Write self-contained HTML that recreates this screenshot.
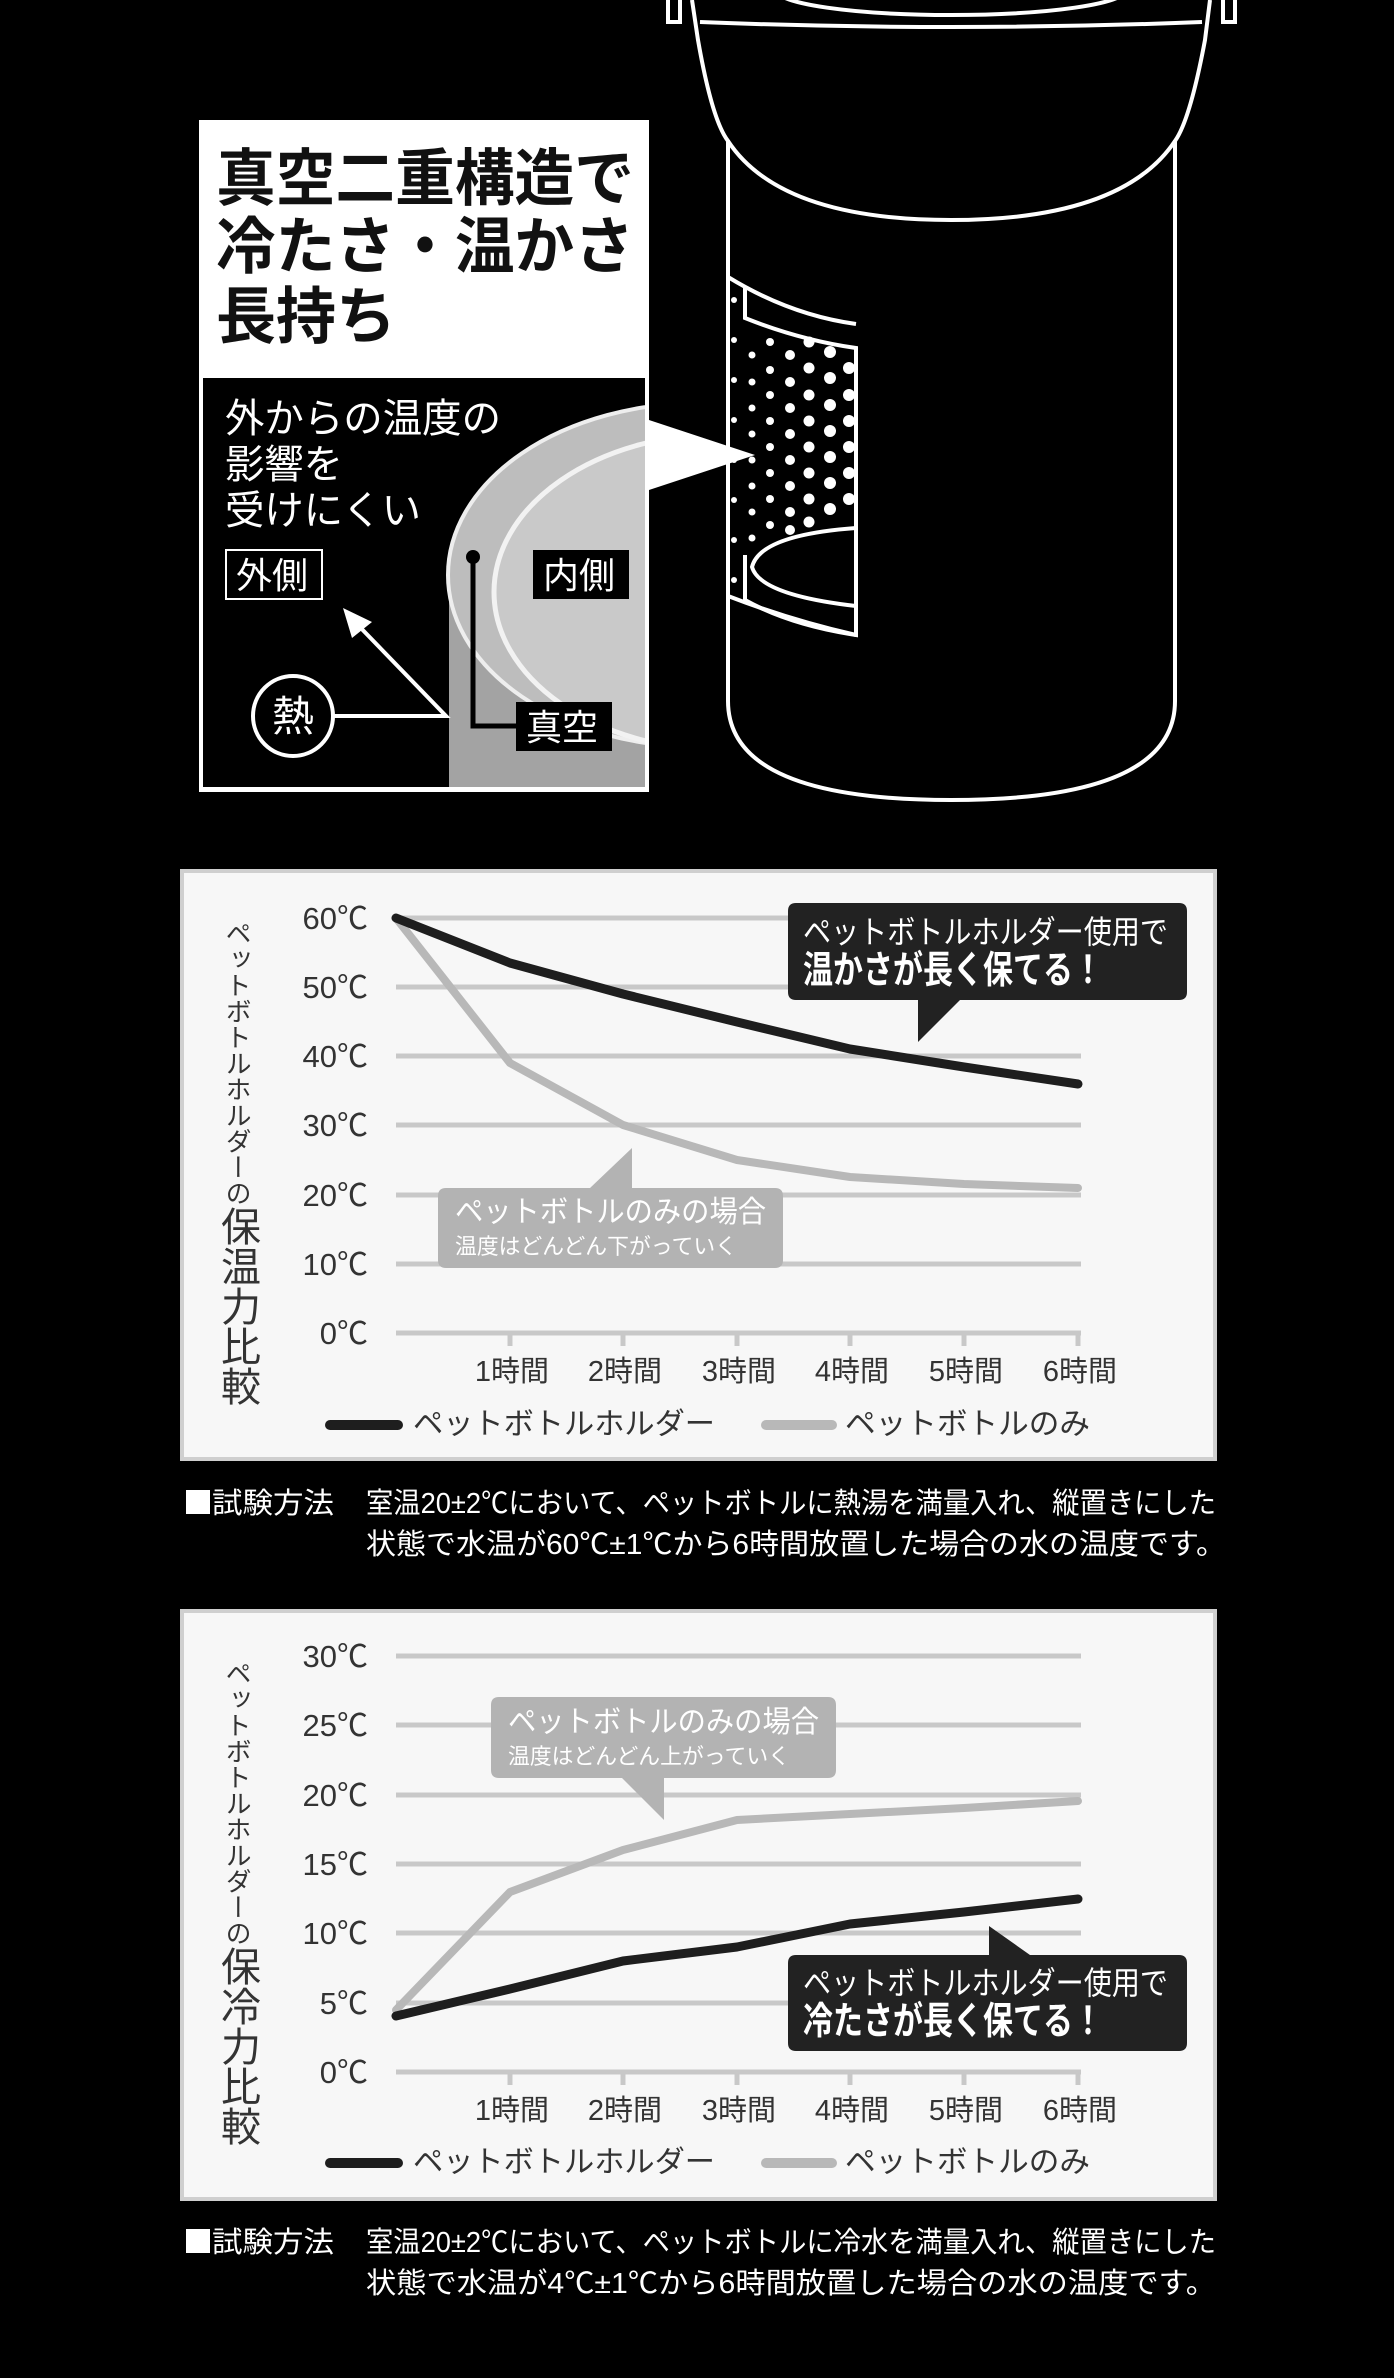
<!DOCTYPE html>
<html><head><meta charset="utf-8">
<style>
html,body{margin:0;padding:0;background:#000;}
body{width:1394px;height:2378px;position:relative;overflow:hidden;font-family:"Liberation Sans","Noto Sans CJK JP",sans-serif;}
svg{position:absolute;left:0;top:0;}
.vt{position:absolute;writing-mode:vertical-rl;color:#333;font-family:"Liberation Sans","Noto Sans CJK JP",sans-serif;line-height:1;}
.vt .s{font-size:26px;letter-spacing:0px;}
.vt .b{font-size:40px;}
</style></head><body>
<svg width="1394" height="2378" viewBox="0 0 1394 2378" font-family="Liberation Sans, Noto Sans CJK JP, sans-serif">
<rect width="1394" height="2378" fill="#000"/>
<g fill="none" stroke="#fff" stroke-width="4">
<path d="M692,0 L698,40 Q712,120 728,141 L728,701 Q728,800 951,800 Q1175,800 1175,701 L1175,141 Q1190,120 1205,40 L1210,0"/>
<path d="M728,141 Q780,220 951,220 Q1122,220 1175,141"/>
<path d="M700,22 Q951,32 1202,22"/>
<path d="M668,0 L668,22 L680,22 L680,0 M1223,0 L1223,22 L1235,22 L1235,0"/>
<ellipse cx="951" cy="-10" rx="175" ry="25"/>
<path d="M745,287 L745,318 Q800,340 856,348 L856,635 Q790,625 745,600 L745,555"/>
<path d="M856,324 Q790,315 728,277 M856,635 Q790,620 728,596"/>
<path d="M856,528 Q760,535 752,567 Q760,595 856,606"/>
</g>
<g fill="#fff">
<circle cx="752" cy="355" r="3.5"/><circle cx="770" cy="342" r="4"/><circle cx="790" cy="355" r="5"/><circle cx="809" cy="342" r="5.5"/><circle cx="830" cy="352" r="6"/>
<circle cx="752" cy="382" r="3.5"/><circle cx="770" cy="370" r="4"/><circle cx="790" cy="382" r="5"/><circle cx="809" cy="368" r="5.5"/><circle cx="830" cy="378" r="6"/><circle cx="849" cy="368" r="6"/>
<circle cx="752" cy="408" r="3.5"/><circle cx="770" cy="395" r="4"/><circle cx="790" cy="408" r="5"/><circle cx="809" cy="395" r="5.5"/><circle cx="830" cy="405" r="6"/><circle cx="849" cy="395" r="6"/>
<circle cx="752" cy="434" r="3.5"/><circle cx="770" cy="421" r="4"/><circle cx="790" cy="434" r="5"/><circle cx="809" cy="421" r="5.5"/><circle cx="830" cy="431" r="6"/><circle cx="849" cy="421" r="6"/>
<circle cx="752" cy="460" r="3.5"/><circle cx="770" cy="447" r="4"/><circle cx="790" cy="460" r="5"/><circle cx="809" cy="447" r="5.5"/><circle cx="830" cy="457" r="6"/><circle cx="849" cy="447" r="6"/>
<circle cx="752" cy="486" r="3.5"/><circle cx="770" cy="473" r="4"/><circle cx="790" cy="486" r="5"/><circle cx="809" cy="473" r="5.5"/><circle cx="830" cy="483" r="6"/><circle cx="849" cy="473" r="6"/>
<circle cx="752" cy="512" r="3.5"/><circle cx="770" cy="499" r="4"/><circle cx="790" cy="512" r="5"/><circle cx="809" cy="499" r="5.5"/><circle cx="830" cy="509" r="6"/><circle cx="849" cy="499" r="6"/>
<circle cx="752" cy="538" r="3.5"/><circle cx="770" cy="525" r="4"/><circle cx="790" cy="530" r="5"/><circle cx="809" cy="522" r="5.5"/>
<circle cx="734" cy="300" r="3"/><circle cx="734" cy="340" r="3"/><circle cx="734" cy="380" r="3"/><circle cx="734" cy="420" r="3"/><circle cx="734" cy="460" r="3"/><circle cx="734" cy="500" r="3"/><circle cx="734" cy="540" r="3"/><circle cx="734" cy="580" r="3"/>
</g>
<rect x="199" y="120" width="450" height="672" fill="#fff"/>
<rect x="203" y="378" width="442" height="409" fill="#000"/>
<clipPath id="cb"><rect x="203" y="378" width="442" height="409"/></clipPath>
<g clip-path="url(#cb)">
<rect x="449" y="575" width="196" height="212" fill="#a3a3a3"/>
<ellipse cx="700" cy="575" rx="252" ry="172" fill="#bdbdbd" stroke="#eee" stroke-width="4"/>
<ellipse cx="722" cy="592" rx="228" ry="158" fill="#c9c9c9" stroke="#f2f2f2" stroke-width="5"/>
</g>
<polygon points="649,420 755,455 649,490" fill="#fff"/>
<text x="216" y="200" font-size="62" font-weight="bold" fill="#111" textLength="418" lengthAdjust="spacingAndGlyphs">真空二重構造で</text>
<text x="216" y="268" font-size="62" font-weight="bold" fill="#111" textLength="418" lengthAdjust="spacingAndGlyphs">冷たさ・温かさ</text>
<text x="216" y="338" font-size="62" font-weight="bold" fill="#111" textLength="180" lengthAdjust="spacingAndGlyphs">長持ち</text>
<text x="225" y="432" font-size="40" fill="#fff" textLength="276" lengthAdjust="spacingAndGlyphs">外からの温度の</text>
<text x="225" y="478" font-size="40" fill="#fff" textLength="118" lengthAdjust="spacingAndGlyphs">影響を</text>
<text x="225" y="524" font-size="40" fill="#fff" textLength="196" lengthAdjust="spacingAndGlyphs">受けにくい</text>
<rect x="226" y="550" width="96" height="49" fill="#000" stroke="#fff" stroke-width="2"/>
<text x="236" y="588" font-size="36" fill="#fff">外側</text>
<rect x="533" y="550" width="96" height="49" fill="#000"/>
<text x="543" y="588" font-size="36" fill="#fff">内側</text>
<rect x="516" y="702" width="96" height="49" fill="#000"/>
<text x="526" y="740" font-size="36" fill="#fff">真空</text>
<circle cx="473" cy="557" r="7" fill="#000"/>
<polyline points="473,557 473,726 516,726" fill="none" stroke="#000" stroke-width="5"/>
<circle cx="293" cy="716" r="40" fill="#000" stroke="#fff" stroke-width="4"/>
<text x="293" y="731" font-size="42" fill="#fff" text-anchor="middle">熱</text>
<polyline points="333,716 446,716 355,622" fill="none" stroke="#fff" stroke-width="4"/>
<polygon points="343,608 372,622 352,638" fill="#fff"/>

<rect x="182" y="871" width="1033" height="588" fill="#f7f7f7" stroke="#cfcfcf" stroke-width="4"/>
<g stroke="#c8c8c8" stroke-width="5">
<line x1="396" y1="918" x2="1081" y2="918"/><line x1="396" y1="987" x2="1081" y2="987"/><line x1="396" y1="1056" x2="1081" y2="1056"/><line x1="396" y1="1125" x2="1081" y2="1125"/><line x1="396" y1="1195" x2="1081" y2="1195"/><line x1="396" y1="1264" x2="1081" y2="1264"/><line x1="396" y1="1333" x2="1081" y2="1333"/>
<line x1="510" y1="1333" x2="510" y2="1346"/><line x1="623" y1="1333" x2="623" y2="1346"/><line x1="737" y1="1333" x2="737" y2="1346"/><line x1="850" y1="1333" x2="850" y2="1346"/><line x1="964" y1="1333" x2="964" y2="1346"/><line x1="1078" y1="1333" x2="1078" y2="1346"/>
</g>
<g font-size="31" fill="#333" text-anchor="end">
<text x="368" y="929">60℃</text><text x="368" y="998">50℃</text><text x="368" y="1067">40℃</text><text x="368" y="1136">30℃</text><text x="368" y="1206">20℃</text><text x="368" y="1275">10℃</text><text x="368" y="1344">0℃</text>
</g>
<g font-size="29" fill="#333" text-anchor="middle">
<text x="512" y="1381">1時間</text><text x="625" y="1381">2時間</text><text x="739" y="1381">3時間</text><text x="852" y="1381">4時間</text><text x="966" y="1381">5時間</text><text x="1080" y="1381">6時間</text>
</g>
<polyline points="396,918 510,1063 623,1125 737,1160 850,1177 964,1184 1078,1188" fill="none" stroke="#b8b8b8" stroke-width="8" stroke-linejoin="round" stroke-linecap="round"/>
<polyline points="396,918 510,963 623,994 737,1022 850,1049 964,1067 1078,1084" fill="none" stroke="#1e1e1e" stroke-width="9" stroke-linejoin="round" stroke-linecap="round"/>
<path d="M796,903 H1179 Q1187,903 1187,911 V992 Q1187,1000 1179,1000 H960 L918,1042 L918,1000 H796 Q788,1000 788,992 V911 Q788,903 796,903 Z" fill="#222"/>
<text x="803" y="943" font-size="32" fill="#fff" textLength="365" lengthAdjust="spacingAndGlyphs">ペットボトルホルダー使用で</text>
<text x="803" y="983" font-size="38" font-weight="bold" fill="#fff" textLength="300" lengthAdjust="spacingAndGlyphs">温かさが長く保てる！</text>
<path d="M446,1188 H590 L632,1148 L632,1188 H775 Q783,1188 783,1196 V1260 Q783,1268 775,1268 H446 Q438,1268 438,1260 V1196 Q438,1188 446,1188 Z" fill="#b3b3b3"/>
<text x="455" y="1222" font-size="30" fill="#fff" textLength="311" lengthAdjust="spacingAndGlyphs">ペットボトルのみの場合</text>
<text x="455" y="1254" font-size="22" fill="#fff" textLength="282" lengthAdjust="spacingAndGlyphs">温度はどんどん下がっていく</text>
<line x1="330" y1="1425" x2="398" y2="1425" stroke="#1e1e1e" stroke-width="10" stroke-linecap="round"/>
<text x="413" y="1434" font-size="30" fill="#333" textLength="302" lengthAdjust="spacingAndGlyphs">ペットボトルホルダー</text>
<line x1="766" y1="1425" x2="832" y2="1425" stroke="#b8b8b8" stroke-width="10" stroke-linecap="round"/>
<text x="845" y="1434" font-size="30" fill="#333" textLength="245" lengthAdjust="spacingAndGlyphs">ペットボトルのみ</text>
<rect x="186" y="1490" width="24" height="24" fill="#fff"/>
<text x="212" y="1513" font-size="29" fill="#fff" textLength="122" lengthAdjust="spacingAndGlyphs">試験方法</text>
<text x="366" y="1513" font-size="29" fill="#fff" textLength="850" lengthAdjust="spacingAndGlyphs">室温20±2℃において、ペットボトルに熱湯を満量入れ、縦置きにした</text>
<text x="366" y="1554" font-size="29" fill="#fff" textLength="860" lengthAdjust="spacingAndGlyphs">状態で水温が60℃±1℃から6時間放置した場合の水の温度です。</text>

<rect x="182" y="1611" width="1033" height="588" fill="#f7f7f7" stroke="#cfcfcf" stroke-width="4"/>
<g stroke="#c8c8c8" stroke-width="5">
<line x1="396" y1="1656" x2="1081" y2="1656"/><line x1="396" y1="1725" x2="1081" y2="1725"/><line x1="396" y1="1795" x2="1081" y2="1795"/><line x1="396" y1="1864" x2="1081" y2="1864"/><line x1="396" y1="1933" x2="1081" y2="1933"/><line x1="396" y1="2003" x2="1081" y2="2003"/><line x1="396" y1="2072" x2="1081" y2="2072"/>
<line x1="510" y1="2072" x2="510" y2="2085"/><line x1="623" y1="2072" x2="623" y2="2085"/><line x1="737" y1="2072" x2="737" y2="2085"/><line x1="850" y1="2072" x2="850" y2="2085"/><line x1="964" y1="2072" x2="964" y2="2085"/><line x1="1078" y1="2072" x2="1078" y2="2085"/>
</g>
<g font-size="31" fill="#333" text-anchor="end">
<text x="368" y="1667">30℃</text><text x="368" y="1736">25℃</text><text x="368" y="1806">20℃</text><text x="368" y="1875">15℃</text><text x="368" y="1944">10℃</text><text x="368" y="2014">5℃</text><text x="368" y="2083">0℃</text>
</g>
<g font-size="29" fill="#333" text-anchor="middle">
<text x="512" y="2120">1時間</text><text x="625" y="2120">2時間</text><text x="739" y="2120">3時間</text><text x="852" y="2120">4時間</text><text x="966" y="2120">5時間</text><text x="1080" y="2120">6時間</text>
</g>
<polyline points="396,2010 510,1892 623,1850 737,1820 850,1814 964,1808 1078,1801" fill="none" stroke="#b8b8b8" stroke-width="8" stroke-linejoin="round" stroke-linecap="round"/>
<polyline points="396,2016 510,1989 623,1961 737,1947 850,1924 964,1912 1078,1899" fill="none" stroke="#1e1e1e" stroke-width="9" stroke-linejoin="round" stroke-linecap="round"/>
<path d="M499,1697 H828 Q836,1697 836,1705 V1770 Q836,1778 828,1778 H664 L664,1820 L622,1778 H499 Q491,1778 491,1770 V1705 Q491,1697 499,1697 Z" fill="#b3b3b3"/>
<text x="508" y="1732" font-size="30" fill="#fff" textLength="311" lengthAdjust="spacingAndGlyphs">ペットボトルのみの場合</text>
<text x="508" y="1764" font-size="22" fill="#fff" textLength="282" lengthAdjust="spacingAndGlyphs">温度はどんどん上がっていく</text>
<path d="M796,1955 H989 L989,1926 L1030,1955 H1179 Q1187,1955 1187,1963 V2043 Q1187,2051 1179,2051 H796 Q788,2051 788,2043 V1963 Q788,1955 796,1955 Z" fill="#222"/>
<text x="803" y="1994" font-size="32" fill="#fff" textLength="365" lengthAdjust="spacingAndGlyphs">ペットボトルホルダー使用で</text>
<text x="803" y="2034" font-size="38" font-weight="bold" fill="#fff" textLength="300" lengthAdjust="spacingAndGlyphs">冷たさが長く保てる！</text>
<line x1="330" y1="2163" x2="398" y2="2163" stroke="#1e1e1e" stroke-width="10" stroke-linecap="round"/>
<text x="413" y="2172" font-size="30" fill="#333" textLength="302" lengthAdjust="spacingAndGlyphs">ペットボトルホルダー</text>
<line x1="766" y1="2163" x2="832" y2="2163" stroke="#b8b8b8" stroke-width="10" stroke-linecap="round"/>
<text x="845" y="2172" font-size="30" fill="#333" textLength="245" lengthAdjust="spacingAndGlyphs">ペットボトルのみ</text>
<rect x="186" y="2229" width="24" height="24" fill="#fff"/>
<text x="212" y="2252" font-size="29" fill="#fff" textLength="122" lengthAdjust="spacingAndGlyphs">試験方法</text>
<text x="366" y="2252" font-size="29" fill="#fff" textLength="850" lengthAdjust="spacingAndGlyphs">室温20±2℃において、ペットボトルに冷水を満量入れ、縦置きにした</text>
<text x="366" y="2293" font-size="29" fill="#fff" textLength="850" lengthAdjust="spacingAndGlyphs">状態で水温が4℃±1℃から6時間放置した場合の水の温度です。</text>
</svg>
<div class="vt" style="left:217px;top:920px;height:500px;"><span class="s">ペットボトルホルダーの</span><span class="b">保温力比較</span></div>
<div class="vt" style="left:217px;top:1660px;height:500px;"><span class="s">ペットボトルホルダーの</span><span class="b">保冷力比較</span></div>
</body></html>
